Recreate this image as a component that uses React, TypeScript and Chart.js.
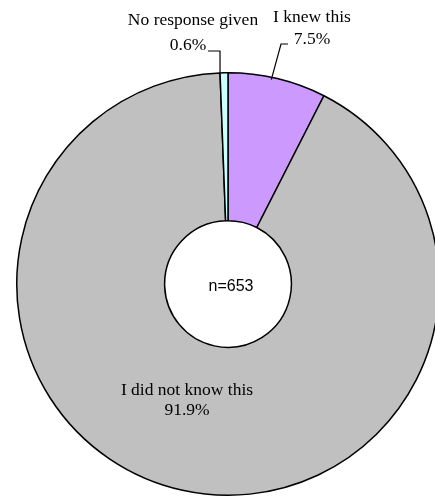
import React, { useEffect, useRef } from "react";
import { Chart, registerables } from "chart.js";

Chart.register(...registerables);

const categories = ["I knew this", "I did not know this", "No response given"];
const values = [7.5, 91.9, 0.6];
const valueLabels = ["7.5%", "91.9%", "0.6%"];
const colors = ["#CC99FF", "#C0C0C0", "#CCFFFF"];
const centerLabel = "n=653";

const SERIF = "17.5px 'Liberation Serif', 'Times New Roman', serif";
const SANS = "16px 'Liberation Sans', Arial, sans-serif";

const labelPlugin = {
  id: "labels",
  afterDraw(chart: any) {
    const ctx = chart.ctx;
    const meta = chart.getDatasetMeta(0);
    const arcs = meta.data as any[];
    const props = arcs.map((a) =>
      a.getProps(["x", "y", "startAngle", "endAngle", "outerRadius", "innerRadius"], true)
    );
    const cx = props[0].x;
    const cy = props[0].y;
    const R = props[0].outerRadius;
    const edge = (i: number) => {
      const p = props[i];
      const mid = (p.startAngle + p.endAngle) / 2;
      return { x: cx + Math.cos(mid) * R, y: cy + Math.sin(mid) * R };
    };
    ctx.save();
    ctx.fillStyle = "#000";
    ctx.textAlign = "center";
    ctx.textBaseline = "middle";
    ctx.font = SERIF;

    // I knew this
    ctx.fillText(categories[0], 312, 17);
    ctx.fillText(valueLabels[0], 312, 39);
    // No response given
    ctx.fillText(categories[2], 193, 20);
    ctx.fillText(valueLabels[2], 188, 45);
    // I did not know this
    ctx.fillText(categories[1], 187, 390);
    ctx.fillText(valueLabels[1], 187, 410);

    ctx.strokeStyle = "#000";
    ctx.lineWidth = 1.2;
    // leader for I knew this
    const e0 = edge(0);
    ctx.beginPath();
    ctx.moveTo(288, 44);
    ctx.lineTo(281, 44);
    ctx.lineTo(e0.x - 6, e0.y + 1);
    ctx.stroke();
    // leader for No response given
    const e2 = edge(2);
    const lx = e2.x - 4;
    const ly = cy - Math.sqrt(R * R - (lx - cx) * (lx - cx));
    ctx.beginPath();
    ctx.moveTo(208, 51);
    ctx.lineTo(lx, 51);
    ctx.lineTo(lx, ly);
    ctx.stroke();

    ctx.font = SANS;
    ctx.fillText(centerLabel, cx + 3, cy + 3);
    ctx.restore();
  },
};

export default function App() {
  const ref = useRef<HTMLCanvasElement>(null);
  useEffect(() => {
    if (!ref.current) return;
    const chart = new Chart(ref.current, {
      type: "doughnut",
      data: {
        labels: categories,
        datasets: [
          {
            data: values,
            backgroundColor: colors,
            borderColor: "#000000",
            borderWidth: 1.5,
            borderAlign: "center",
          },
        ],
      },
      options: {
        responsive: false,
        animation: false,
        cutout: "30%",
        layout: { padding: { left: 16, right: 20, top: 72, bottom: 2 } },
        plugins: {
          legend: { display: false },
          tooltip: { enabled: false },
        },
      },
      plugins: [labelPlugin],
    });
    return () => chart.destroy();
  }, []);
  return (
    <div
      style={{
        position: "fixed",
        left: 0,
        top: 0,
        width: 435,
        height: 498,
        overflow: "hidden",
        background: "#fff",
      }}
    >
      <canvas ref={ref} width={460} height={498} style={{ display: "block" }} />
    </div>
  );
}
